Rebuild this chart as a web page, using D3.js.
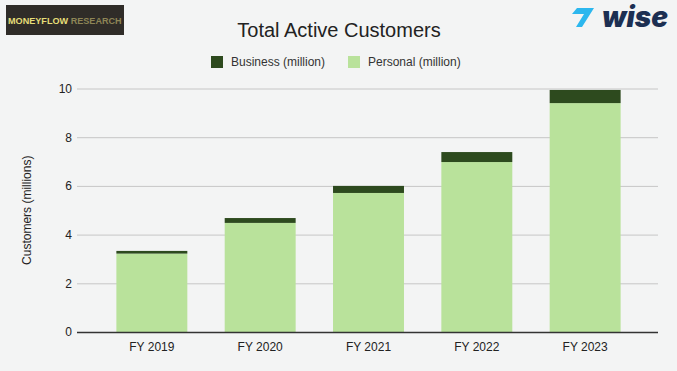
<!DOCTYPE html>
<html>
<head>
<meta charset="utf-8">
<script src="https://cdn.jsdelivr.net/npm/d3@7"></script>
<style>
  html, body { margin: 0; padding: 0; background: #f3f4f4; }
  svg { display: block; font-family: "Liberation Sans", Arial, sans-serif; }
</style>
</head>
<body>
<div id="chart"></div>
<script>
// ------------------------------------------------------------
// Data (millions of customers)
// ------------------------------------------------------------
const years = ['FY 2019', 'FY 2020', 'FY 2021', 'FY 2022', 'FY 2023'];
const personal = [3.22, 4.48, 5.71, 6.98, 9.40];
const business = [0.11, 0.20, 0.29, 0.41, 0.54];
const yTicks = [0, 2, 4, 6, 8, 10];
const seriesNames = ['Business (million)', 'Personal (million)'];

const COLORS = {
    business: '#2d4a1e',
    personal: '#b9e29b',
    grid: '#c6c6c6',
    axis: '#333333',
    text: '#222222'
};

const width = 677, height = 371;
const plot = { left: 77, right: 658, top: 88.5, bottom: 332 };

const svg = d3.select('#chart').append('svg')
    .attr('width', width)
    .attr('height', height);

svg.append('rect')
    .attr('width', width).attr('height', height)
    .attr('fill', '#f3f4f4');

// scales
const x = d3.scaleBand()
    .domain(years)
    .range([plot.left + 2, plot.right])
    .padding(0.345);

const y = d3.scaleLinear()
    .domain([0, 10])
    .range([plot.bottom, plot.top]);

// grid + y labels
const yAxis = svg.append('g')
    .attr('transform', `translate(${plot.left},0)`)
    .call(d3.axisLeft(y).tickValues(yTicks).tickSize(-(plot.right - plot.left)).tickPadding(5));
yAxis.select('.domain').remove();
yAxis.selectAll('.tick line').attr('stroke', COLORS.grid).attr('stroke-width', 1);
yAxis.selectAll('.tick text')
    .attr('fill', COLORS.text)
    .style('font-size', '12px')
    .style('font-family', '"Liberation Sans", Arial, sans-serif');

// stacked bars
const rows = years.map((yr, i) => ({ year: yr, personal: personal[i], business: business[i] }));
const stack = d3.stack().keys(['personal', 'business'])(rows);
const fills = { personal: COLORS.personal, business: COLORS.business };

svg.append('g').selectAll('g')
    .data(stack)
    .join('g')
    .attr('fill', d => fills[d.key])
    .selectAll('rect')
    .data(d => d)
    .join('rect')
    .attr('x', d => x(d.data.year))
    .attr('width', x.bandwidth())
    .attr('y', d => y(d[1]))
    .attr('height', d => y(d[0]) - y(d[1]));

// x axis
const xAxis = svg.append('g')
    .attr('transform', `translate(0,${plot.bottom})`)
    .call(d3.axisBottom(x).tickSize(0).tickPadding(10));
xAxis.select('.domain').remove();
xAxis.selectAll('.tick text')
    .attr('fill', COLORS.text)
    .style('font-size', '12px')
    .style('font-family', '"Liberation Sans", Arial, sans-serif');
svg.append('line')
    .attr('x1', plot.left).attr('x2', plot.right)
    .attr('y1', plot.bottom + 0.5).attr('y2', plot.bottom + 0.5)
    .attr('stroke', COLORS.axis).attr('stroke-width', 1.3);

// y axis title
svg.append('text')
    .attr('transform', `translate(31,${(plot.top + plot.bottom) / 2}) rotate(-90)`)
    .attr('text-anchor', 'middle')
    .attr('fill', COLORS.text)
    .style('font-size', '12px')
    .text('Customers (millions)');

// title
svg.append('text')
    .attr('x', 339).attr('y', 37)
    .attr('text-anchor', 'middle')
    .attr('fill', COLORS.text)
    .style('font-size', '20px')
    .text('Total Active Customers');

// legend
const legendItems = [
    { label: seriesNames[0], color: COLORS.business, x: 211 },
    { label: seriesNames[1], color: COLORS.personal, x: 348 }
];
const legend = svg.append('g');
legendItems.forEach(item => {
    legend.append('rect')
        .attr('x', item.x).attr('y', 56)
        .attr('width', 12).attr('height', 12)
        .attr('fill', item.color);
    legend.append('text')
        .attr('x', item.x + 20).attr('y', 66)
        .attr('fill', '#333')
        .style('font-size', '12px')
        .text(item.label);
});

// Moneyflow Research badge
svg.append('rect')
    .attr('x', 6).attr('y', 5)
    .attr('width', 118).attr('height', 30)
    .attr('fill', '#2f2c28');
const badge = svg.append('text')
    .attr('x', 8).attr('y', 24)
    .style('font-size', '9.1px').style('font-weight', 'bold')
    .style('font-family', '"Liberation Sans", Arial, sans-serif');
badge.append('tspan').attr('fill', '#e6de78').text('MONEYFLOW ');
badge.append('tspan').attr('fill', '#8d8556').text('RESEARCH');

// Wise logo
svg.append('path')
    .attr('d', 'M572,14 L577,8 L594,8 L582,27 L576,27 L584,14 Z')
    .attr('fill', '#2cb7ee');
svg.append('text')
    .attr('x', 602).attr('y', 27)
    .attr('fill', '#1c2f52')
    .attr('textLength', 66).attr('lengthAdjust', 'spacingAndGlyphs')
    .style('font-size', '28px').style('font-weight', '900').style('font-style', 'italic')
    .style('font-family', 'Inter, "DejaVu Sans", sans-serif')
    .text('wise');
</script>
</body>
</html>
